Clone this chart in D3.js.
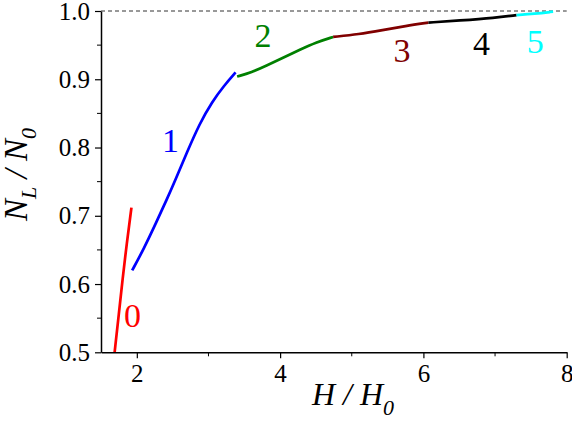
<!DOCTYPE html>
<html>
<head>
<meta charset="utf-8">
<script src="https://d3js.org/d3.v7.min.js"></script>
</head>
<body style="margin:0">
<div id="chart"></div>
<script>
// curve segments: H/H0 and NL/N0
const h0 = [1.69, 1.75, 1.80, 1.86, 1.925];
const n0 = [0.500, 0.557, 0.606, 0.660, 0.712];
const h1 = [1.935, 2.10, 2.27, 2.415, 2.54, 2.70, 2.876, 3.05, 3.22, 3.378];
const n1 = [0.620, 0.652, 0.690, 0.723, 0.753, 0.793, 0.835, 0.867, 0.891, 0.910];
const h2 = [3.40, 3.60, 3.81, 4.03, 4.27, 4.50, 4.74];
const n2 = [0.904, 0.910, 0.920, 0.931, 0.943, 0.954, 0.962];
const h3 = [4.74, 5.10, 5.43, 5.75, 6.07];
const n3 = [0.962, 0.966, 0.972, 0.978, 0.983];
const h4 = [6.07, 6.50, 7.00, 7.30];
const n4 = [0.983, 0.986, 0.990, 0.994];
const h5 = [7.30, 7.55, 7.81];
const n5 = [0.994, 0.996, 0.999];

const segNames = ["0", "1", "2", "3", "4", "5"];
const segColors = ["#ff0000", "#0000ff", "#008000", "#800000", "#000000", "#00ffff"];
// where each number label sits (data coords, baseline)
const labelH = [1.94, 2.47, 3.76, 5.70, 6.81, 7.56];
const labelN = [0.537, 0.793, 0.947, 0.926, 0.935, 0.938];

const xTicks = [2, 4, 6, 8];
const yTicks = [0.5, 0.6, 0.7, 0.8, 0.9, 1.0];

const serif = '"Liberation Serif"';
const width = 572, height = 424;
const margin = { top: 11, right: 5.3, bottom: 71.7, left: 101 };

const svg = d3.select("#chart").append("svg")
  .attr("width", width).attr("height", height);

const x = d3.scaleLinear().domain([1.5, 8]).range([margin.left, width - margin.right]);
const y = d3.scaleLinear().domain([0.5, 1.0]).range([height - margin.bottom, margin.top]);

// dashed reference line at 1.0
svg.append("line")
  .attr("x1", x(1.5)).attr("x2", x(8))
  .attr("y1", y(1.0)).attr("y2", y(1.0))
  .attr("stroke", "#333").attr("stroke-width", 1)
  .attr("stroke-dasharray", "4,3");

// curves
const segs = [[h0, n0], [h1, n1], [h2, n2], [h3, n3], [h4, n4], [h5, n5]];
const line = d3.line()
  .x(d => x(d[0])).y(d => y(d[1]))
  .curve(d3.curveBasis);

segs.forEach((s, i) => {
  const pts = s[0].map((h, j) => [h, s[1][j]]);
  svg.append("path")
    .datum(pts)
    .attr("d", line)
    .attr("fill", "none")
    .attr("stroke", segColors[i])
    .attr("stroke-width", 2.7);
});

// number labels
svg.selectAll(".seglab")
  .data(segNames)
  .enter().append("text")
  .attr("class", "seglab")
  .attr("x", (d, i) => x(labelH[i]))
  .attr("y", (d, i) => y(labelN[i]))
  .attr("text-anchor", "middle")
  .attr("font-size", 34)
  .style("font-family", serif)
  .attr("fill", (d, i) => segColors[i])
  .text(d => d);

// axes
const xAxis = svg.append("g")
  .attr("transform", `translate(0,${height - margin.bottom})`)
  .call(d3.axisBottom(x).tickValues(xTicks).tickFormat(d3.format("d"))
    .tickSize(6).tickSizeOuter(0).tickPadding(6));
xAxis.append("g").selectAll("line")
  .data([3, 5, 7]).enter().append("line")
  .attr("x1", d => x(d)).attr("x2", d => x(d))
  .attr("y1", 0).attr("y2", 4).attr("stroke", "#000");

const yAxis = svg.append("g")
  .attr("transform", `translate(${margin.left},0)`)
  .call(d3.axisLeft(y).tickValues(yTicks).tickFormat(d3.format(".1f"))
    .tickSize(6).tickSizeOuter(0).tickPadding(5));
yAxis.append("g").selectAll("line")
  .data([0.55, 0.65, 0.75, 0.85, 0.95]).enter().append("line")
  .attr("y1", d => y(d)).attr("y2", d => y(d))
  .attr("x1", 0).attr("x2", -4).attr("stroke", "#000");

[xAxis, yAxis].forEach(a => {
  a.attr("font-family", null).attr("font-size", 25);
  a.select(".domain").attr("stroke", "#000").attr("stroke-width", 1.5);
  a.selectAll(".tick line").attr("stroke", "#000").attr("stroke-width", 1.2);
  a.selectAll(".tick text").attr("fill", "#000")
    .style("font-family", serif);
});

// axis titles
const xt = svg.append("text")
  .attr("x", 312).attr("y", 405)
  .attr("font-size", 32)
  .style("font-family", serif)
  .attr("font-style", "italic");
xt.append("tspan").text("H / H");
xt.append("tspan").attr("dy", 10).attr("font-size", 22).text("0");

const yt = svg.append("text")
  .attr("transform", "translate(27,221) rotate(-90)")
  .attr("font-size", 33)
  .style("font-family", serif)
  .attr("font-style", "italic");
yt.append("tspan").text("N");
yt.append("tspan").attr("dy", 9).attr("font-size", 22).text("L");
yt.append("tspan").attr("dy", -9).text(" / N");
yt.append("tspan").attr("dy", 9).attr("font-size", 22).text("0");
</script>
</body>
</html>
